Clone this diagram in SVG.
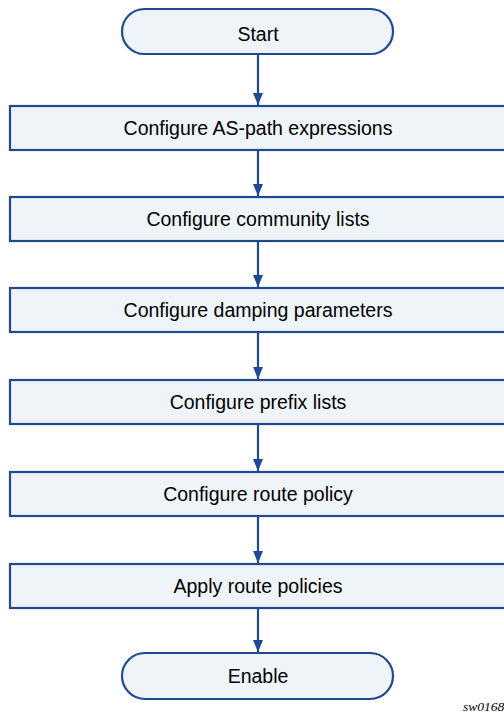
<svg xmlns="http://www.w3.org/2000/svg" width="504" height="715" viewBox="0 0 504 715">
<style>
.n{fill:#eff4f9;stroke:#1f4a93;stroke-width:2.2}
.t{font-family:"Liberation Sans",Arial,sans-serif;font-size:19.5px;fill:#000;text-anchor:middle}
.c{stroke:#1f4a93;stroke-width:2.2;fill:none}
</style>
<defs>
<marker id="a" viewBox="0 0 12 10" refX="12" refY="5" markerWidth="12" markerHeight="10" markerUnits="userSpaceOnUse" orient="auto">
<path d="M0,0 L12,5 L0,10 z" fill="#1f4a93"/>
</marker>
</defs>
<g id="connectors">
<line class="c" x1="258" y1="54" x2="258" y2="105" marker-end="url(#a)"/>
<line class="c" x1="258" y1="150" x2="258" y2="196" marker-end="url(#a)"/>
<line class="c" x1="258" y1="241" x2="258" y2="287" marker-end="url(#a)"/>
<line class="c" x1="258" y1="332" x2="258" y2="379" marker-end="url(#a)"/>
<line class="c" x1="258" y1="424" x2="258" y2="471" marker-end="url(#a)"/>
<line class="c" x1="258" y1="516" x2="258" y2="563" marker-end="url(#a)"/>
<line class="c" x1="258" y1="608" x2="258" y2="652" marker-end="url(#a)"/>
</g>
<g id="start"><rect class="n" x="122" y="9" width="271" height="45" rx="22.5"/><text class="t" x="258" y="41">Start</text></g>
<g id="n1"><rect class="n" x="10" y="106" width="496" height="44"/><text class="t" x="258" y="135">Configure AS-path expressions</text></g>
<g id="n2"><rect class="n" x="10" y="197" width="496" height="44"/><text class="t" x="258" y="226">Configure community lists</text></g>
<g id="n3"><rect class="n" x="10" y="288" width="496" height="44"/><text class="t" x="258" y="317">Configure damping parameters</text></g>
<g id="n4"><rect class="n" x="10" y="380" width="496" height="44"/><text class="t" x="258" y="409">Configure prefix lists</text></g>
<g id="n5"><rect class="n" x="10" y="472" width="496" height="44"/><text class="t" x="258" y="501">Configure route policy</text></g>
<g id="n6"><rect class="n" x="10" y="564" width="496" height="44"/><text class="t" x="258" y="593">Apply route policies</text></g>
<g id="end"><rect class="n" x="122" y="653" width="271" height="46" rx="23"/><text class="t" x="258" y="683">Enable</text></g>
<text x="463" y="711" style="font-family:'Liberation Serif',serif;font-style:italic;font-size:13.5px">sw0168</text>
</svg>
